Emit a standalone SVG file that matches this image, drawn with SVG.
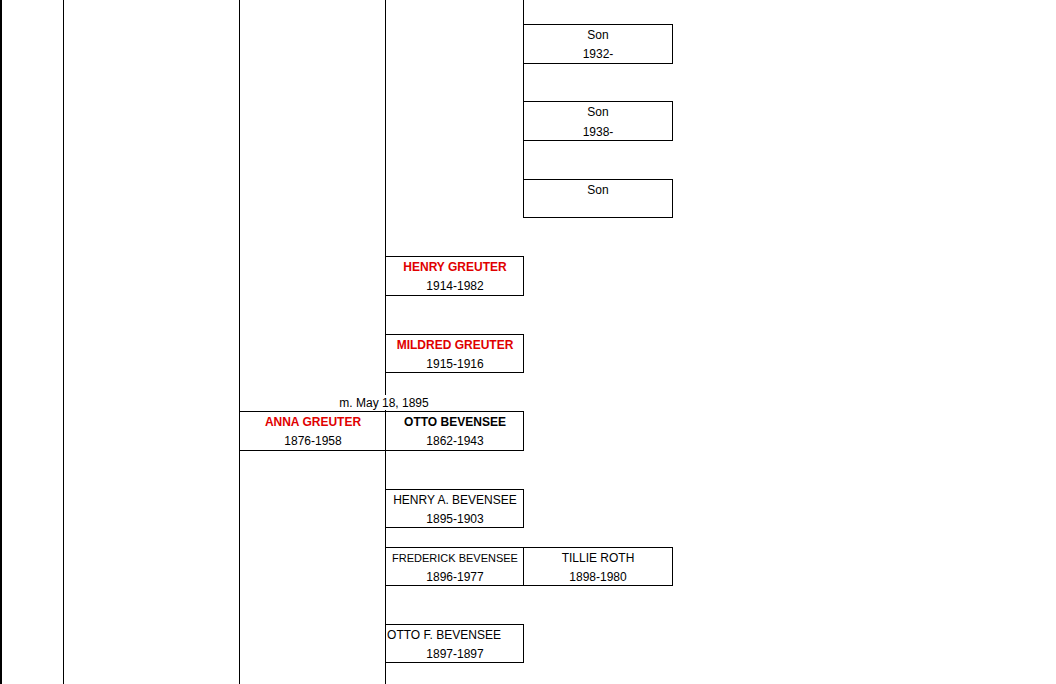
<svg xmlns="http://www.w3.org/2000/svg" width="1056" height="684" viewBox="0 0 1056 684">
<style>
line,rect.n{stroke:#000;stroke-width:1;fill:none}
rect.bg{fill:#fff;stroke:none}
text{font-family:"Liberation Sans",Arial,sans-serif;font-size:12px;fill:#000;text-anchor:middle}
.r{fill:#e00000;font-weight:bold}
.b{font-weight:bold}
</style>
<rect class="bg" x="0" y="0" width="1056" height="684"/>
<g id="connectors">
<line x1="1" y1="0" x2="1" y2="684" style="stroke-width:2"/>
<line x1="63.5" y1="0" x2="63.5" y2="684"/>
<line x1="239.5" y1="0" x2="239.5" y2="684"/>
<line x1="385.5" y1="0" x2="385.5" y2="684"/>
<line x1="523.5" y1="0" x2="523.5" y2="217.5"/>
</g>
<g id="son1"><rect class="n" x="523.5" y="24.5" width="149" height="39"/><text x="598" y="39">Son</text><text x="598" y="58">1932-</text></g>
<g id="son2"><rect class="n" x="523.5" y="101.5" width="149" height="39"/><text x="598" y="116">Son</text><text x="598" y="136">1938-</text></g>
<g id="son3"><rect class="n" x="523.5" y="179.5" width="149" height="38"/><text x="598" y="194">Son</text></g>
<g id="henry"><rect class="n" x="385.5" y="256.5" width="138" height="39"/><text class="r" x="455" y="271">HENRY GREUTER</text><text x="455" y="290">1914-1982</text></g>
<g id="mildred"><rect class="n" x="385.5" y="334.5" width="138" height="38"/><text class="r" x="455" y="349">MILDRED GREUTER</text><text x="455" y="368">1915-1916</text></g>
<rect class="bg" x="330" y="395" width="108" height="15"/>
<text x="384" y="407">m. May 18, 1895</text>
<g id="anna"><rect class="n" x="239.5" y="411.5" width="146" height="39"/><text class="r" x="313" y="426">ANNA GREUTER</text><text x="313" y="445">1876-1958</text></g>
<g id="otto"><rect class="n" x="385.5" y="411.5" width="138" height="39"/><text class="b" x="455" y="426">OTTO BEVENSEE</text><text x="455" y="445">1862-1943</text></g>
<g id="henrya"><rect class="n" x="385.5" y="489.5" width="138" height="38"/><text x="455" y="504">HENRY A. BEVENSEE</text><text x="455" y="523">1895-1903</text></g>
<g id="frederick"><rect class="n" x="385.5" y="547.5" width="138" height="38"/><text x="455" y="562" style="font-size:11px">FREDERICK BEVENSEE</text><text x="455" y="581">1896-1977</text></g>
<g id="tillie"><rect class="n" x="523.5" y="547.5" width="149" height="38"/><text x="598" y="562">TILLIE ROTH</text><text x="598" y="581">1898-1980</text></g>
<g id="ottof"><rect class="n" x="385.5" y="624.5" width="138" height="38"/><text x="444" y="639">OTTO F. BEVENSEE</text><text x="455" y="658">1897-1897</text></g>
</svg>
